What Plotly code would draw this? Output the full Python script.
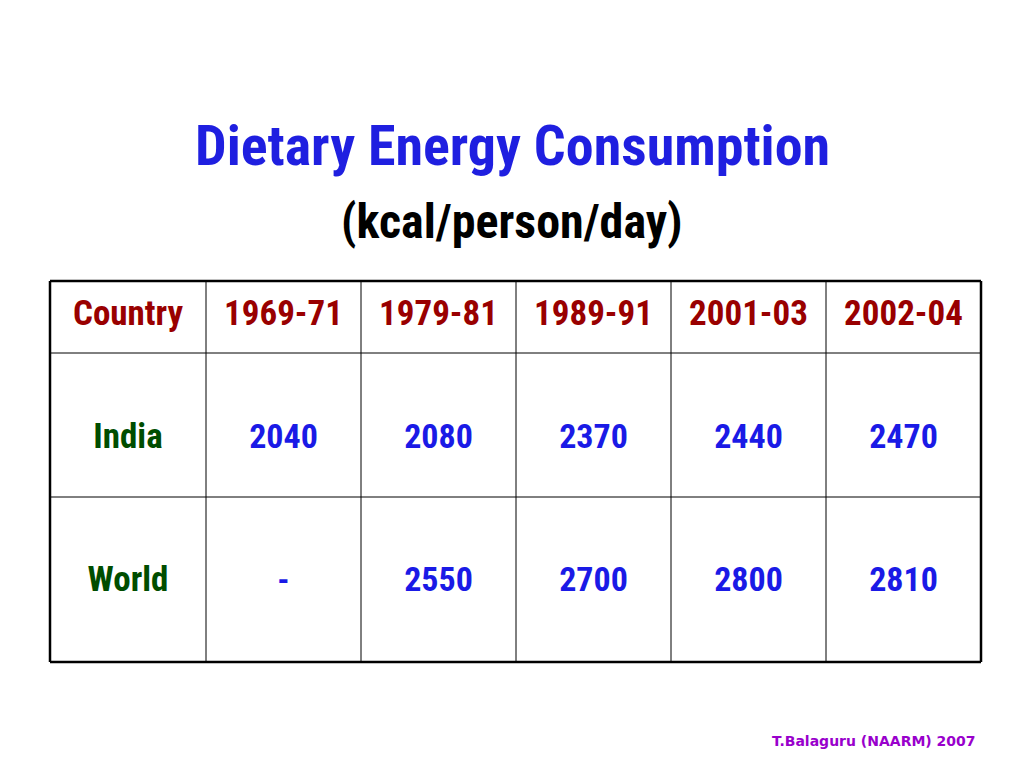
import plotly.graph_objects as go

header = ["Country", "1969-71", "1979-81", "1989-91", "2001-03", "2002-04"]
countries = ["India", "World"]
india = ["2040", "2080", "2370", "2440", "2470"]
world = ["-", "2550", "2700", "2800", "2810"]

col_edges = [50, 206, 361, 516, 671, 826, 981]
row_edges = [281, 353, 497, 662]
text_y = [316, 439, 582]  # vertical text positions within each row
FONT = "Liberation Sans Narrow, Arial Narrow, Roboto Condensed, sans-serif"

centers = [(col_edges[i] + col_edges[i + 1]) / 2 for i in range(6)]

fig = go.Figure()
fig.add_trace(go.Scatter(x=centers, y=[text_y[0]] * 6, mode="text", text=header,
                         textfont=dict(size=35, color="#990000")))
for r, (name, vals) in enumerate(zip(countries, [india, world])):
    y = text_y[r + 1]
    fig.add_trace(go.Scatter(x=[centers[0]], y=[y], mode="text", text=[name],
                             textfont=dict(size=35, color="#004d00")))
    fig.add_trace(go.Scatter(x=centers[1:], y=[y] * 5, mode="text", text=vals,
                             textfont=dict(size=34, color="#1a1ae6")))

shapes = []
for x in col_edges:
    w = 2.5 if x in (col_edges[0], col_edges[-1]) else 1
    shapes.append(dict(type="line", x0=x, x1=x, y0=row_edges[0], y1=row_edges[-1],
                       line=dict(color="black", width=w)))
for y in row_edges:
    w = 2.5 if y in (row_edges[0], row_edges[-1]) else 1
    shapes.append(dict(type="line", x0=col_edges[0], x1=col_edges[-1], y0=y, y1=y,
                       line=dict(color="black", width=w)))

# page body adds an 8px offset, so shift the ranges to compensate
fig.update_layout(
    width=1024, height=768, margin=dict(l=0, r=0, t=0, b=0),
    plot_bgcolor="white", paper_bgcolor="white", showlegend=False,
    xaxis=dict(range=[8, 1032], visible=False, fixedrange=True),
    yaxis=dict(range=[776, 8], visible=False, fixedrange=True),
    shapes=shapes,
    annotations=[
        dict(x=512, y=146, text="<b>Dietary Energy Consumption</b>", showarrow=False,
             font=dict(family=FONT, size=56, color="#1f1fe0")),
        dict(x=512, y=221, text="<b>(kcal/person/day)</b>", showarrow=False,
             font=dict(family=FONT, size=48, color="black")),
        dict(x=978, y=741, text="<b>T.Balaguru (NAARM) 2007</b>", showarrow=False,
             xanchor="right", font=dict(family="DejaVu Sans, Verdana, sans-serif",
                                        size=14, color="#9900cc")),
    ],
)
fig.update_traces(textfont_family=FONT)
for t in fig.data:
    t.text = ["<b>%s</b>" % s for s in t.text]
fig.write_html("out.html")
